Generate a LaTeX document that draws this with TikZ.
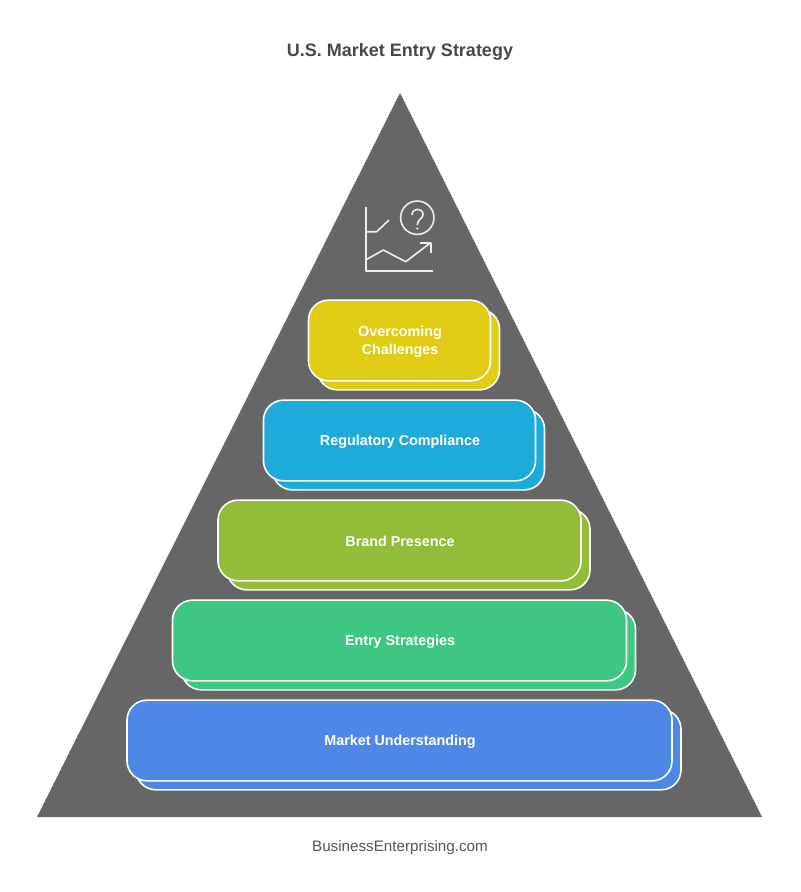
\documentclass[tikz,border=0pt]{standalone}
\usepackage{fontspec}
\setmainfont{Liberation Sans}
\usepackage{color}
\definecolor{slategray}{RGB}{102, 102, 102}
\definecolor{titlegray}{RGB}{72, 72, 72}
\definecolor{footgray}{RGB}{85, 85, 85}
\definecolor{iconwhite}{RGB}{238, 238, 238}
\definecolor{mustard}{RGB}{224, 204, 21}
\definecolor{skyblue}{RGB}{30, 171, 218}
\definecolor{olivegreen}{RGB}{147, 189, 57}
\definecolor{seagreen}{RGB}{61, 199, 131}
\definecolor{royalblue}{RGB}{78, 136, 231}
\tikzset{
    tier/.style={draw=white, line width=1.2pt, rounded corners=15pt, minimum height=60.5pt,
                 minimum width=#1*0.75pt, inner sep=0pt},
    tierlabel/.style={text=white, align=center, inner sep=0pt,
                 font=\fontsize{10.75}{13.5}\selectfont\bfseries},
    iconline/.style={draw=iconwhite, line width=1.2pt, line join=round},
}
\begin{document}
\begin{tikzpicture}[x=0.75pt, y=-0.75pt]
            % Frame to fix the page:
            \useasboundingbox[fill=white]                   (  0.0,   0.0) rectangle (800.0, 892.0);
            \fill[slategray] (400.0,  93.0) -- (762.0, 817.0) -- (37.0, 817.0) -- cycle;
            \node[text=titlegray, font=\fontsize{13.5}{16}\selectfont\bfseries] (title)  at (400.0,  52.0) {U.S. Market Entry Strategy};
            \node[text=footgray,  font=\fontsize{11.4}{14}\selectfont]          (footer) at (400.0, 847.5) {BusinessEnterprising.com};
            % Icon:
            \draw[iconline] (365.7, 206.7) -- (365.7, 270.7) -- (432.7, 270.7);
            \draw[iconline] (365.7, 231.7) -- (376.7, 231.7) -- (389.0, 220.0);
            \draw[iconline] (365.7, 260.0) -- (383.3, 250.0) -- (405.7, 261.7) -- (430.7, 242.7);
            \draw[iconline] (420.0, 242.7) -- (430.7, 242.7) -- (430.7, 253.3);
            \draw[iconline] (417.3, 217.7) circle (12.5pt);
            \draw[iconline] (412.0, 215.0) .. controls (412.0, 207.5) and (423.0, 207.5) .. (423.0, 214.5)
                            .. controls (423.0, 219.0) and (417.3, 219.0) .. (417.3, 225.0);
            \fill[iconwhite] (417.3, 228.6) circle (0.9pt);
            % Back plates:
            \node[tier=182, fill=mustard]    (challengesback) at (408.5, 349.5) {};
            \node[tier=272, fill=skyblue]    (regulatoryback) at (408.5, 449.5) {};
            \node[tier=363, fill=olivegreen] (brandback)      at (408.5, 549.5) {};
            \node[tier=454, fill=seagreen]   (entryback)      at (408.5, 649.5) {};
            \node[tier=545, fill=royalblue]  (marketback)     at (408.5, 749.5) {};
            % Front plates:
            \node[tier=182, fill=mustard]    (challenges) at (399.5, 340.5) {};
            \node[tier=272, fill=skyblue]    (regulatory) at (399.5, 440.5) {};
            \node[tier=363, fill=olivegreen] (brand)      at (399.5, 540.5) {};
            \node[tier=454, fill=seagreen]   (entry)      at (399.5, 640.5) {};
            \node[tier=545, fill=royalblue]  (market)     at (399.5, 740.5) {};
            % Labels sit a little low in the plates:
            \node[tierlabel] (challengeslabel) at ([xshift=0.4pt, yshift=-0.8pt]challenges.center) {Overcoming\\Challenges};
            \node[tierlabel] (regulatorylabel) at ([xshift=0.4pt, yshift=-0.8pt]regulatory.center) {Regulatory Compliance};
            \node[tierlabel] (brandlabel)      at ([xshift=0.4pt, yshift=-0.3pt]brand.center)      {Brand Presence};
            \node[tierlabel] (entrylabel)      at ([xshift=0.4pt, yshift=-0.8pt]entry.center)      {Entry Strategies};
            \node[tierlabel] (marketlabel)     at ([xshift=0.4pt, yshift=-0.8pt]market.center)     {Market Understanding};
        \end{tikzpicture}
\end{document}
